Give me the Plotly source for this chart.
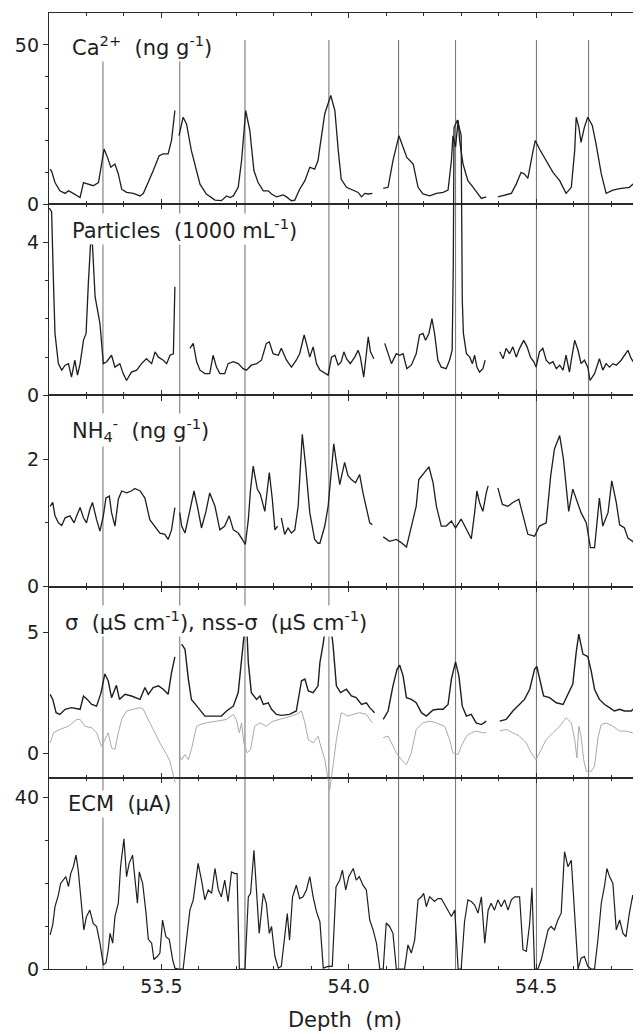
import plotly.graph_objects as go

# ---------------- data (depth in m, value) ----------------
ca = [(53.203,11.0),(53.207,10.3),(53.216,6.8),(53.229,4.2),(53.243,3.4),(53.252,4.2),(53.260,3.7),(53.274,2.6),
      (53.283,2.1),(53.292,6.8),(53.305,6.3),(53.318,5.8),(53.332,6.8),(53.340,12.6),(53.347,17.3),(53.356,14.7),
      (53.365,11.6),(53.376,12.6),(53.385,9.5),(53.394,4.7),(53.407,3.7),(53.425,3.4),(53.443,2.6),(53.452,3.4),
      (53.465,6.8),(53.478,10.5),(53.494,15.2),(53.505,15.8),(53.518,15.8),(53.527,20.0),(53.536,29.4),(53.541,None),
      (53.547,21.5),(53.558,27.3),(53.567,25.2),(53.580,16.8),(53.603,6.3),(53.620,3.2),(53.643,1.3),(53.660,1.1),
      (53.674,2.6),(53.683,2.1),(53.692,2.6),(53.705,5.3),(53.714,13.7),(53.725,29.4),(53.736,23.1),(53.747,10.5),
      (53.758,6.8),(53.772,4.2),(53.785,4.2),(53.794,3.2),(53.807,2.3),(53.825,2.9),(53.834,2.3),(53.847,1.1),
      (53.856,1.3),(53.869,4.7),(53.883,7.4),(53.896,11.6),(53.909,11.0),(53.918,13.7),(53.923,17.9),(53.936,28.4),
      (53.952,34.1),(53.963,29.4),(53.972,16.8),(53.980,7.8),(53.994,5.3),(54.012,4.4),(54.025,3.7),(54.034,2.3),
      (54.043,3.4),(54.052,3.2),(54.063,3.4),(54.078,None),
      (54.092,5.0),(54.105,5.3),(54.118,13.7),(54.134,21.5),(54.145,17.9),(54.155,14.7),(54.172,12.6),(54.185,5.3),
      (54.198,3.2),(54.216,2.6),(54.234,3.4),(54.252,3.7),(54.265,4.4),(54.274,13.7),(54.278,21.5),(54.285,17.9),
      (54.292,26.3),(54.296,19.9),(54.305,12.6),(54.318,7.4),(54.332,5.3),(54.345,3.4),(54.354,1.8),(54.367,2.3),
      (54.380,None),
      (54.398,2.3),(54.416,2.8),(54.434,3.4),(54.447,6.3),(54.460,10.0),(54.469,9.5),(54.478,8.1),(54.492,16.8),
      (54.498,20.0),(54.509,17.3),(54.527,13.7),(54.545,10.0),(54.563,7.4),(54.580,3.4),(54.594,5.3),(54.603,16.8),
      (54.607,27.3),(54.614,24.2),(54.620,19.4),(54.629,24.2),(54.638,27.3),(54.650,24.7),(54.660,18.9),(54.674,9.5),
      (54.687,3.4),(54.705,4.4),(54.723,4.9),(54.749,5.3),(54.763,6.8),(54.772,8.9),(54.779,8.4)]

particles = [(53.201,4.9),(53.207,4.8),(53.212,2.93),(53.216,1.62),(53.225,0.83),(53.234,0.66),(53.243,0.79),
      (53.252,0.83),(53.260,0.48),(53.269,0.92),(53.276,0.53),(53.283,0.83),(53.292,1.44),(53.299,1.62),(53.305,2.93),
      (53.311,3.98),(53.316,3.94),(53.323,2.58),(53.336,1.88),(53.345,0.83),(53.354,0.88),(53.367,1.05),(53.376,0.74),
      (53.389,0.83),(53.398,0.57),(53.407,0.39),(53.420,0.61),(53.434,0.66),(53.447,0.83),(53.460,0.96),(53.474,0.83),
      (53.483,1.14),(53.492,1.0),(53.505,0.92),(53.514,0.83),(53.523,1.05),(53.532,1.09),(53.536,2.84),(53.550,None),
      (53.576,1.23),(53.585,1.36),(53.594,0.88),(53.603,0.66),(53.616,0.57),(53.629,0.57),(53.638,1.05),(53.647,0.74),
      (53.656,0.57),(53.669,0.57),(53.678,0.83),(53.692,0.88),(53.705,0.83),(53.718,0.70),(53.727,0.66),(53.740,0.79),
      (53.754,0.83),(53.767,0.92),(53.780,1.36),(53.788,1.40),(53.798,1.09),(53.812,1.05),(53.820,1.23),(53.834,0.92),
      (53.847,0.74),(53.860,0.92),(53.869,1.09),(53.881,1.58),(53.887,1.36),(53.896,1.0),(53.905,1.27),(53.914,0.83),
      (53.923,0.66),(53.932,0.61),(53.945,0.53),(53.954,1.0),(53.963,1.05),(53.972,0.79),(53.980,0.88),(53.987,1.14),
      (53.994,0.96),(54.004,0.83),(54.016,1.0),(54.025,1.18),(54.031,1.0),(54.040,0.48),(54.052,1.53),(54.058,1.14),
      (54.067,0.96),(54.080,None),
      (54.096,1.36),(54.105,1.09),(54.114,0.83),(54.127,1.09),(54.136,1.05),(54.145,1.09),(54.155,0.70),(54.167,0.79),
      (54.180,1.09),(54.189,1.58),(54.198,1.62),(54.205,1.44),(54.214,1.62),(54.222,2.01),(54.229,1.62),(54.238,0.92),
      (54.247,0.74),(54.260,0.70),(54.269,0.92),(54.276,1.18),(54.279,3.4),(54.281,7.0),(54.290,7.2),(54.300,6.8),
      (54.303,2.5),(54.306,1.62),(54.314,1.09),(54.323,1.0),(54.330,0.83),(54.336,1.05),(54.342,0.74),(54.349,0.61),
      (54.358,0.70),(54.364,0.92),(54.380,None),
      (54.403,1.14),(54.412,0.96),(54.420,1.23),(54.429,1.09),(54.438,1.27),(54.447,1.0),(54.456,1.23),(54.467,1.44),
      (54.476,1.27),(54.485,1.0),(54.494,0.88),(54.500,0.74),(54.509,1.14),(54.518,1.23),(54.527,0.92),(54.536,0.83),
      (54.545,0.88),(54.554,0.70),(54.563,0.79),(54.572,0.66),(54.580,1.05),(54.589,0.61),(54.594,0.92),(54.603,1.44),
      (54.612,1.18),(54.620,0.83),(54.629,0.92),(54.638,0.74),(54.644,0.39),(54.656,0.57),(54.669,0.96),(54.678,0.66),
      (54.687,0.83),(54.696,0.74),(54.705,0.83),(54.714,0.79),(54.727,0.92),(54.736,1.05),(54.745,1.18),(54.754,0.96),
      (54.763,0.83),(54.772,0.96),(54.779,1.0)]

nh4 = [(53.203,1.26),(53.210,1.32),(53.216,1.11),(53.225,1.0),(53.234,0.96),(53.243,1.08),(53.256,1.11),(53.267,1.0),
      (53.274,1.11),(53.283,1.24),(53.292,1.08),(53.300,1.0),(53.309,1.21),(53.316,1.32),(53.327,1.05),(53.336,0.87),
      (53.345,1.11),(53.352,1.39),(53.361,1.42),(53.367,1.16),(53.376,0.95),(53.385,1.37),(53.394,1.5),(53.407,1.47),
      (53.420,1.5),(53.429,1.54),(53.443,1.5),(53.456,1.39),(53.469,1.05),(53.483,0.95),(53.496,0.84),(53.509,0.82),
      (53.518,0.74),(53.527,0.89),(53.536,1.24),(53.543,None),
      (53.549,1.16),(53.554,0.95),(53.563,0.84),(53.576,1.18),(53.587,1.5),(53.596,1.26),(53.607,0.92),(53.619,1.18),
      (53.629,1.47),(53.643,1.26),(53.656,0.89),(53.669,0.95),(53.681,1.11),(53.692,0.89),(53.705,0.84),(53.716,0.74),
      (53.724,0.66),(53.732,1.05),(53.738,1.53),(53.745,1.89),(53.756,1.53),(53.764,1.45),(53.776,1.18),(53.788,1.79),
      (53.796,1.37),(53.803,0.89),(53.810,0.95),(53.815,None),
      (53.820,1.08),(53.829,0.82),(53.838,0.92),(53.847,0.84),(53.856,0.89),(53.865,1.26),(53.876,2.39),(53.885,1.89),
      (53.896,1.16),(53.909,0.74),(53.918,0.68),(53.923,0.68),(53.936,0.95),(53.945,1.26),(53.954,1.84),(53.960,2.24),
      (53.967,1.95),(53.976,1.6),(53.983,1.79),(53.989,1.95),(53.998,1.74),(54.007,1.68),(54.018,1.63),(54.029,1.76),
      (54.038,1.47),(54.047,1.21),(54.056,1.0),(54.063,0.97),(54.078,None),
      (54.092,0.78),(54.109,0.71),(54.127,0.74),(54.140,0.69),(54.154,0.62),(54.167,0.95),(54.180,1.26),(54.187,1.68),
      (54.198,1.76),(54.214,1.88),(54.225,1.63),(54.234,1.26),(54.247,0.95),(54.260,0.95),(54.274,1.03),(54.285,0.92),
      (54.300,1.06),(54.314,0.89),(54.327,0.75),(54.336,1.16),(54.342,1.5),(54.349,1.32),(54.358,1.18),(54.367,1.47),
      (54.372,1.58),(54.385,None),
      (54.398,1.55),(54.410,1.29),(54.425,1.26),(54.438,1.32),(54.454,1.37),(54.467,1.05),(54.478,0.82),(54.496,0.79),
      (54.509,0.95),(54.527,1.0),(54.539,1.74),(54.549,2.16),(54.563,2.37),(54.573,2.0),(54.587,1.18),(54.598,1.53),
      (54.609,1.34),(54.620,1.16),(54.634,1.0),(54.645,0.61),(54.656,0.61),(54.663,1.05),(54.669,1.39),(54.678,0.95),
      (54.692,1.16),(54.702,1.66),(54.714,1.32),(54.723,0.97),(54.736,0.92),(54.745,0.76),(54.758,0.71),(54.767,0.63),
      (54.779,0.68)]

sigma = [(53.203,2.45),(53.210,2.24),(53.219,1.69),(53.229,1.62),(53.243,1.83),(53.260,1.90),(53.283,1.83),(53.292,2.38),
      (53.302,2.24),(53.314,2.03),(53.327,1.96),(53.339,2.52),(53.349,3.29),(53.358,3.01),(53.367,2.31),(53.380,2.82),
      (53.388,2.24),(53.403,2.45),(53.420,2.38),(53.443,2.24),(53.456,2.73),(53.465,2.45),(53.478,2.73),(53.492,2.80),
      (53.505,2.66),(53.518,2.45),(53.527,3.35),(53.536,4.0),(53.545,None),
      (53.554,4.52),(53.563,4.31),(53.572,3.07),(53.580,2.24),(53.598,1.90),(53.616,1.55),(53.638,1.55),(53.660,1.55),
      (53.674,1.76),(53.692,1.96),(53.705,2.52),(53.714,3.76),(53.720,4.8),(53.725,5.6),(53.729,4.8),(53.732,3.76),
      (53.740,2.52),(53.754,2.24),(53.763,2.38),(53.772,2.03),(53.785,2.10),(53.794,1.83),(53.807,1.62),(53.820,1.58),
      (53.842,1.62),(53.860,1.76),(53.874,3.01),(53.883,3.08),(53.892,2.59),(53.905,2.52),(53.918,2.80),(53.923,3.76),
      (53.932,4.56),(53.940,5.5),(53.945,5.8),(53.950,5.5),(53.958,4.5),(53.967,2.80),(53.978,2.52),(53.994,2.66),
      (54.007,2.38),(54.020,2.31),(54.034,2.03),(54.047,2.10),(54.056,1.90),(54.069,1.69),(54.080,None),
      (54.092,1.41),(54.105,1.76),(54.118,2.80),(54.129,3.49),(54.136,3.65),(54.145,3.21),(54.154,2.31),(54.167,2.24),
      (54.180,2.10),(54.194,1.69),(54.207,1.55),(54.225,1.80),(54.238,1.83),(54.252,1.83),(54.265,2.03),(54.274,3.08),
      (54.285,3.79),(54.294,3.21),(54.303,1.96),(54.314,1.55),(54.327,1.62),(54.340,1.27),(54.354,1.20),(54.367,1.34),
      (54.385,None),
      (54.403,1.34),(54.420,1.41),(54.438,1.76),(54.456,2.03),(54.469,2.24),(54.483,2.66),(54.496,3.49),(54.502,3.60),
      (54.509,3.07),(54.520,2.38),(54.536,2.31),(54.554,2.10),(54.572,2.03),(54.585,2.45),(54.598,2.87),(54.607,4.18),
      (54.614,4.94),(54.625,4.11),(54.638,4.01),(54.647,3.42),(54.656,2.66),(54.669,2.24),(54.683,2.03),(54.696,1.90),
      (54.709,1.76),(54.723,1.83),(54.736,1.76),(54.754,1.76),(54.767,1.97),(54.772,2.24),(54.779,2.03)]

nss_sigma = [(53.203,0.44),(53.212,0.86),(53.229,1.00),(53.252,1.13),(53.274,1.41),(53.283,1.41),(53.296,1.13),
      (53.314,1.07),(53.327,0.86),(53.340,0.30),(53.349,0.58),(53.358,0.86),(53.367,0.24),(53.376,0.17),(53.385,0.86),
      (53.394,1.41),(53.407,1.76),(53.425,1.83),(53.443,1.90),(53.452,1.83),(53.460,1.55),(53.478,1.00),(53.496,0.44),
      (53.514,-0.04),(53.523,-0.32),(53.532,-0.94),(53.537,-1.2),(53.543,None),
      (53.549,-0.1),(53.554,-0.25),(53.563,-0.04),(53.572,-0.25),(53.580,0.17),(53.594,1.13),(53.603,1.20),(53.620,1.27),
      (53.647,1.34),(53.674,1.41),(53.692,1.62),(53.700,1.41),(53.708,0.86),(53.714,1.27),(53.720,0.44),(53.729,0.03),
      (53.738,0.17),(53.749,1.13),(53.763,1.27),(53.780,1.13),(53.798,1.34),(53.816,1.41),(53.829,1.48),(53.847,1.55),
      (53.860,1.62),(53.874,1.76),(53.883,1.27),(53.892,0.58),(53.905,0.44),(53.918,0.72),(53.923,0.44),(53.936,-0.25),
      (53.945,-1.08),(53.949,-1.5),(53.958,-0.52),(53.967,0.58),(53.980,1.69),(53.998,1.55),(54.012,1.62),(54.029,1.69),
      (54.047,1.62),(54.056,1.41),(54.063,1.27),(54.078,None),
      (54.092,0.66),(54.105,0.72),(54.114,0.44),(54.127,0.03),(54.140,-0.25),(54.154,-0.46),(54.167,0.03),(54.180,1.00),
      (54.198,1.27),(54.216,1.34),(54.234,1.27),(54.256,1.13),(54.269,0.58),(54.278,0.03),(54.292,-0.04),(54.300,0.30),
      (54.314,0.72),(54.327,0.86),(54.340,0.93),(54.358,0.86),(54.367,0.86),(54.385,None),
      (54.403,0.93),(54.420,1.00),(54.438,0.86),(54.456,0.72),(54.474,0.44),(54.487,0.03),(54.500,-0.25),(54.514,0.17),
      (54.527,0.58),(54.545,0.86),(54.563,1.13),(54.580,1.48),(54.594,1.27),(54.603,0.58),(54.609,-0.18),(54.614,1.13),
      (54.620,0.72),(54.627,-0.25),(54.634,-0.73),(54.647,-0.73),(54.656,-0.52),(54.665,0.65),(54.674,1.20),(54.687,1.27),
      (54.705,1.13),(54.723,0.93),(54.740,0.93),(54.758,0.86),(54.779,0.72)]

ecm = [(53.203,7.95),(53.210,10.3),(53.216,14.5),(53.225,17.2),(53.231,19.9),(53.238,20.7),(53.245,21.5),(53.252,19.2),
      (53.258,22.2),(53.265,23.8),(53.272,26.5),(53.278,23.0),(53.287,15.3),(53.293,9.1),(53.300,12.2),(53.309,13.7),
      (53.318,10.6),(53.327,9.9),(53.336,6.0),(53.345,1.0),(53.352,1.4),(53.358,4.5),(53.363,8.3),(53.370,6.0),
      (53.376,12.2),(53.385,15.3),(53.391,23.8),(53.400,30.3),(53.407,21.5),(53.414,24.6),(53.423,26.5),(53.429,20.7),
      (53.436,15.3),(53.441,22.6),(53.450,19.9),(53.459,13.0),(53.465,6.9),(53.474,6.0),(53.480,2.2),(53.489,2.9),
      (53.496,3.7),(53.503,11.4),(53.512,7.5),(53.521,6.9),(53.530,2.2),(53.536,0.2),(53.545,0.0),(53.558,0.0),
      (53.567,6.9),(53.576,13.7),(53.585,16.1),(53.594,23.0),(53.598,24.6),(53.607,20.7),(53.616,16.1),(53.625,18.4),
      (53.634,17.6),(53.643,23.4),(53.652,18.4),(53.660,16.8),(53.669,20.7),(53.678,15.7),(53.687,22.6),(53.696,22.2),
      (53.702,22.2),(53.708,0.0),(53.723,0.0),(53.732,16.8),(53.738,17.6),(53.747,27.6),(53.754,16.8),(53.761,8.3),
      (53.772,17.6),(53.780,15.3),(53.788,8.3),(53.794,9.9),(53.803,2.9),(53.812,0.2),(53.820,0.6),(53.829,7.5),
      (53.836,12.9),(53.842,6.7),(53.850,16.8),(53.860,19.5),(53.869,16.4),(53.878,16.8),(53.887,18.4),(53.896,21.5),
      (53.905,16.8),(53.914,13.3),(53.923,11.0),(53.932,0.2),(53.945,0.6),(53.956,0.6),(53.966,19.1),(53.976,20.7),
      (53.983,23.0),(53.992,18.4),(54.000,21.5),(54.012,23.4),(54.020,20.7),(54.028,21.5),(54.038,19.5),(54.047,18.4),
      (54.056,11.4),(54.065,9.1),(54.074,6.0),(54.083,0.0),(54.092,0.0),(54.100,10.7),(54.109,9.9),(54.118,8.3),
      (54.127,0.0),(54.136,0.0),(54.149,0.0),(54.158,5.6),(54.167,3.7),(54.176,6.8),(54.185,16.1),(54.194,16.8),
      (54.200,17.6),(54.207,14.5),(54.216,16.8),(54.229,15.7),(54.238,16.4),(54.247,16.4),(54.260,14.5),(54.274,12.2),
      (54.283,13.7),(54.292,0.0),(54.300,0.0),(54.309,11.0),(54.318,16.1),(54.327,15.7),(54.336,14.9),(54.345,13.0),
      (54.354,16.8),(54.363,6.0),(54.372,13.7),(54.380,15.3),(54.389,13.7),(54.398,16.1),(54.407,14.5),(54.416,16.1),
      (54.425,13.7),(54.434,16.1),(54.443,16.8),(54.456,16.8),(54.465,4.5),(54.474,4.1),(54.483,10.7),(54.489,18.9),
      (54.496,0.0),(54.505,0.0),(54.514,2.2),(54.523,6.0),(54.532,9.1),(54.540,9.9),(54.549,9.1),(54.558,11.4),
      (54.567,13.0),(54.576,27.3),(54.585,23.8),(54.594,25.3),(54.603,13.0),(54.612,0.0),(54.620,2.5),(54.629,2.9),
      (54.638,0.6),(54.647,0.0),(54.656,0.0),(54.665,6.8),(54.674,15.3),(54.683,19.5),(54.689,23.4),(54.696,21.5),
      (54.705,19.9),(54.714,9.1),(54.723,11.4),(54.732,8.3),(54.740,7.5),(54.749,13.0),(54.758,17.2),(54.767,13.0),
      (54.779,9.1)]

event_depths = [53.344, 53.549, 53.723, 53.947, 54.133, 54.285, 54.501, 54.640]

panel_labels = ["Ca<sup>2+</sup>\u00a0 (ng g<sup>-1</sup>)",
                "Particles\u00a0 (1000 mL<sup>-1</sup>)",
                "NH<sub>4</sub><sup>-</sup>\u00a0 (ng g<sup>-1</sup>)",
                "\u03c3\u00a0 (\u00b5S cm<sup>-1</sup>), nss-\u03c3\u00a0 (\u00b5S cm<sup>-1</sup>)",
                "ECM\u00a0 (\u00b5A)"]
panel_ranges = [(0, 60), (0, 5), (0, 3), (-1, 6.9), (0, 44.5)]
major_ticks = [[0, 50], [0, 4], [0, 2], [0, 5], [0, 40]]
minor_ticks = [[10, 20, 30, 40], [1, 2, 3], [1], [], [10, 20, 30]]
x_range = [53.2, 54.78]
x_label_ticks = [53.5, 54.0, 54.5]

# ---------------- figure ----------------
FONT = "DejaVu Sans, Arial, sans-serif"
INK = "#1e1e1e"
AX = "#2a2a2a"
OFF = 8                       # page body margin of the html page
W, H = 641 - OFF, 1034 - OFF  # figure size so that it ends at the window edge
ML, MT = 49 - OFF, 13 - OFF
PLOT_BOTTOM = 969 - OFF
MB = H - PLOT_BOTTOM
N = 5

fig = go.Figure()
layout = dict(width=W, height=H, margin=dict(l=ML, r=0, t=MT, b=MB, autoexpand=False),
              paper_bgcolor="white", plot_bgcolor="rgba(0,0,0,0)", showlegend=False,
              font=dict(family=FONT, size=19, color=INK))

series = [[(ca, INK, 1.3)], [(particles, INK, 1.3)], [(nh4, INK, 1.3)],
          [(nss_sigma, "#aaaaaa", 1.0), (sigma, INK, 1.4)], [(ecm, INK, 1.2)]]

for k in range(N):
    i = k + 1
    lo, hi = panel_ranges[k]
    span = hi - lo
    dom = [(N - i) / N, (N - i + 1) / N]
    last = (i == N)
    layout[f"xaxis{i}"] = dict(domain=[0, 1], range=x_range, anchor=f"y{i}",
                              showline=True, linecolor=AX, linewidth=1.3, mirror="ticks",
                              ticks="inside", ticklen=5, tickwidth=1.2, tickcolor=AX,
                              tickvals=x_label_ticks, ticktext=[f"{v:.1f}" for v in x_label_ticks],
                              showticklabels=last, showgrid=False, zeroline=False,
                              minor=dict(dtick=0.1, tick0=53.2, ticks="inside", ticklen=3,
                                         tickwidth=1, tickcolor=AX, showgrid=False),
                              tickfont=dict(size=19, family=FONT, color=INK))
    if last:
        layout[f"xaxis{i}"]["title"] = dict(text="Depth\u00a0 (m)", font=dict(size=21, family=FONT, color=INK),
                                            standoff=16)
    layout[f"yaxis{i}"] = dict(domain=dom, range=[lo, hi], anchor=f"x{i}",
                              showline=True, linecolor=AX, linewidth=1.3, mirror=False,
                              ticks="outside", ticklen=5, tickwidth=1.2, tickcolor=AX,
                              tickvals=major_ticks[k], showgrid=False, zeroline=False,
                              minor=dict(tickvals=minor_ticks[k], ticks="outside", ticklen=3,
                                         tickwidth=1, tickcolor=AX, showgrid=False),
                              tickfont=dict(size=19, family=FONT, color=INK))
    # empty trace so the panel's own axes (frame, ticks) are drawn
    fig.add_trace(go.Scatter(x=[None], y=[None], mode="lines", xaxis=f"x{i}", yaxis=f"y{i}",
                             hoverinfo="skip"))
    # unclipped data axis: spans the whole plot height on the same scale as the panel
    j = N + i
    layout[f"yaxis{j}"] = dict(domain=[0, 1], range=[lo - (N - i) * span, hi + (i - 1) * span],
                              anchor=f"x{i}", visible=False, showgrid=False, zeroline=False)
    for data, col, lw in series[k]:
        xs = [d for d, v in data]
        ys = [v for d, v in data]
        fig.add_trace(go.Scatter(x=xs, y=ys, mode="lines", xaxis=f"x{i}", yaxis=f"y{j}",
                                 line=dict(color=col, width=lw), connectgaps=False,
                                 hoverinfo="skip"))

# event lines (from the bottom axis up to just under the top frame)
plot_h = H - MT - MB
top_px = 40 - OFF
y_top = (PLOT_BOTTOM - top_px) / plot_h
shapes = []
for d in event_depths:
    shapes.append(dict(type="line", xref="x5", yref="paper", x0=d, x1=d, y0=0, y1=y_top,
                       line=dict(color="#7a7a7a", width=1.1), layer="below"))
layout["shapes"] = shapes

# panel labels (page pixel positions of the label's left edge / vertical centre)
label_px = [(70, 46), (70, 229), (70, 430), (63, 621), (66, 804)]
annotations = []
for k, (lx, ly) in enumerate(label_px):
    annotations.append(dict(text=panel_labels[k], xref="paper", yref="paper",
                            x=(lx - OFF - ML) / (W - ML), y=(PLOT_BOTTOM - (ly - OFF)) / plot_h,
                            xanchor="left", yanchor="middle", showarrow=False,
                            bgcolor="white", borderpad=1,
                            font=dict(size=21, family=FONT, color=INK)))
layout["annotations"] = annotations

fig.update_layout(**layout)
fig.write_html("out.html")
